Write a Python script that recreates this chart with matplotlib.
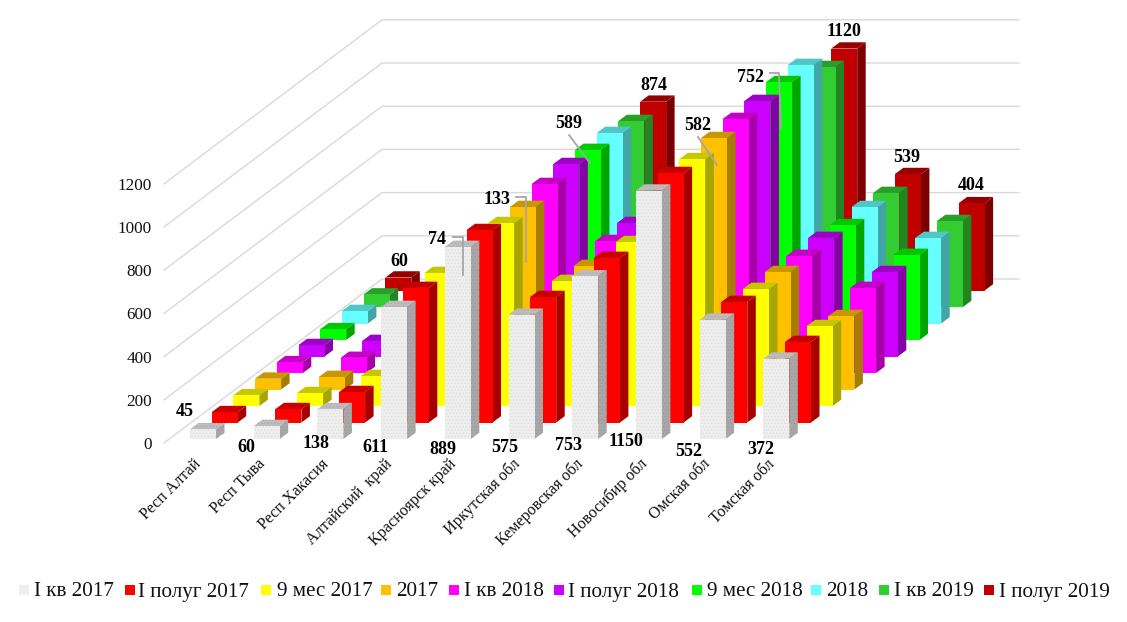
import matplotlib
matplotlib.use('Agg')
import matplotlib.pyplot as plt
from matplotlib.colors import to_rgb

plt.rcParams['font.family'] = ['Liberation Serif', 'DejaVu Serif']
plt.rcParams['hatch.linewidth'] = 0.5

# Данные
regiones = ['Респ Алтай', 'Респ Тыва', 'Респ Хакасия', 'Алтайский  край', 'Красноярск край',
            'Иркутская обл', 'Кемеровская обл', 'Новосибир обл', 'Омская обл', 'Томская обл']
periodos = ['I кв 2017', 'I полуг 2017', '9 мес 2017', '2017', 'I кв 2018',
            'I полуг 2018', '9 мес 2018', '2018', 'I кв 2019', 'I полуг 2019']
colores = ['#eeeeee', '#ff0000', '#ffff00', '#ffc000', '#ff00ff',
           '#cc00ff', '#00ff00', '#66ffff', '#33cc33', '#c00000']

kv1_2017 = [45, 60, 138, 611, 889, 575, 753, 1150, 552, 372]
pol_2017 = [48, 62, 141, 623, 891, 581, 762, 1155, 558, 373]
mes9_2017 = [50, 60, 139, 616, 847, 579, 759, 1143, 542, 370]
god_2017 = [50, 58, 135, 610, 845, 572, 750, 1164, 544, 340]
kv1_2018 = [50, 70, 135, 605, 875, 611, 750, 1176, 542, 394]
pol_2018 = [53, 72, 135, 600, 891, 618, 750, 1183, 549, 391]
mes9_2018 = [50, 72, 135, 600, 880, 600, 750, 1194, 532, 394]
god_2018 = [58, 72, 135, 595, 882, 590, 750, 1197, 539, 396]
kv1_2019 = [58, 73, 133, 590, 861, 585, 750, 1111, 528, 398]
pol_2019 = [60, 74, 133, 589, 874, 582, 752, 1120, 539, 404]
series = [kv1_2017, pol_2017, mes9_2017, god_2017, kv1_2018,
          pol_2018, mes9_2018, god_2018, kv1_2019, pol_2019]

ticks_y = [0, 200, 400, 600, 800, 1000, 1200]

# Геометрия косой проекции (в пикселях)
x0, y0 = 190, 439
paso_cat = 63.7
dx_ser, dy_ser = 21.7, -16.5
ancho = 26
dx_prof, dy_prof = 8.5, -6.3
esc = 0.216


def tono(color, f):
    return tuple(c * f for c in to_rgb(color))


fig = plt.figure(figsize=(11.27, 6.22), dpi=100)
ax = fig.add_axes([0, 0, 1, 1])
ax.set_xlim(0, 1127)
ax.set_ylim(622, 0)
ax.axis('off')

# Сетка
for v in ticks_y:
    h = v * esc
    ax.plot([164, 382, 1019], [443 - h, 279 - h, 279 - h], color='#d9d9d9', lw=1, zorder=1)
    ax.text(152, 445 - h, str(v), ha='right', va='center', fontsize=12.3, color='#111111')

# Столбцы: сначала дальние ряды
z = 2
for j in range(len(series) - 1, -1, -1):
    for i, val in enumerate(series[j]):
        xa = x0 + i * paso_cat + j * dx_ser
        xb = xa + ancho
        base = y0 + j * dy_ser
        top = base - val * esc
        c = colores[j]
        if j == 0:
            ax.fill([xb, xb + dx_prof, xb + dx_prof, xb],
                    [base, base + dy_prof, top + dy_prof, top], facecolor='#a8a8a8',
                    edgecolor='#9a9a9a', hatch='.....', linewidth=0, zorder=z)
            ax.fill([xa, xa + dx_prof, xb + dx_prof, xb],
                    [top, top + dy_prof, top + dy_prof, top], facecolor='#bdbdbd',
                    edgecolor='#acacac', hatch='.....', linewidth=0, zorder=z)
            ax.fill([xa, xb, xb, xa], [base, base, top, top], facecolor=c,
                    edgecolor='#dcdcdc', hatch='.....', linewidth=0, zorder=z)
        else:
            ax.fill([xb, xb + dx_prof, xb + dx_prof, xb],
                    [base, base + dy_prof, top + dy_prof, top], color=tono(c, 0.65), lw=0, zorder=z)
            ax.fill([xa, xa + dx_prof, xb + dx_prof, xb],
                    [top, top + dy_prof, top + dy_prof, top], color=tono(c, 0.78), lw=0, zorder=z)
            ax.fill([xa, xb, xb, xa], [base, base, top, top], color=c, lw=0, zorder=z)
        z += 1

# Линии выноски
gris = '#a6a6a6'
ax.plot([453, 463, 463], [237, 237, 275], color=gris, lw=1.3, zorder=z)
ax.plot([516, 526, 526], [197, 197, 262], color=gris, lw=1.3, zorder=z)
ax.plot([770, 779, 781], [73, 73, 128], color=gris, lw=1.3, zorder=z)
ax.plot([569, 590], [135, 163], color=gris, lw=1.3, zorder=z)
ax.plot([698, 717], [137, 165], color=gris, lw=1.3, zorder=z)

# Подписи значений
pos_primero = [(185, 412), (246, 447), (316, 444), (375, 447), (443, 449),
               (505, 448), (569, 445), (626, 442), (689, 452), (761, 450)]
pos_ultimo = [(399, 261), (437, 239), (497, 200), (569, 123), (654, 86),
              (698, 126), (751, 77), (844, 32), (907, 157), (971, 186)]
for (px, py), v in zip(pos_primero, kv1_2017):
    ax.text(px, py, str(v), ha='center', va='center', fontsize=13, fontweight='bold', zorder=z + 1)
for (px, py), v in zip(pos_ultimo, pol_2019):
    ax.text(px, py, str(v), ha='center', va='center', fontsize=13, fontweight='bold', zorder=z + 1)

# Подписи регионов
for i, r in enumerate(regiones):
    ax.text(193 + i * paso_cat, 456, r, rotation=45, rotation_mode='anchor',
            ha='right', va='top', fontsize=11.6, color='#111111')

# Легенда
ley_cuadro = [19, 125, 261, 381, 449, 554, 692, 811, 879, 984]
ley_texto = [34, 138, 277, 396, 464, 568, 707, 826, 894, 999]
for k, p in enumerate(periodos):
    xc = ley_cuadro[k]
    ax.fill([xc, xc + 10, xc + 10, xc], [585, 585, 595, 595], color=colores[k], lw=0)
    ax.text(ley_texto[k], 592, p, ha='left', va='center', fontsize=15.2, color='#111111')

fig.savefig('out.png', dpi=100)
